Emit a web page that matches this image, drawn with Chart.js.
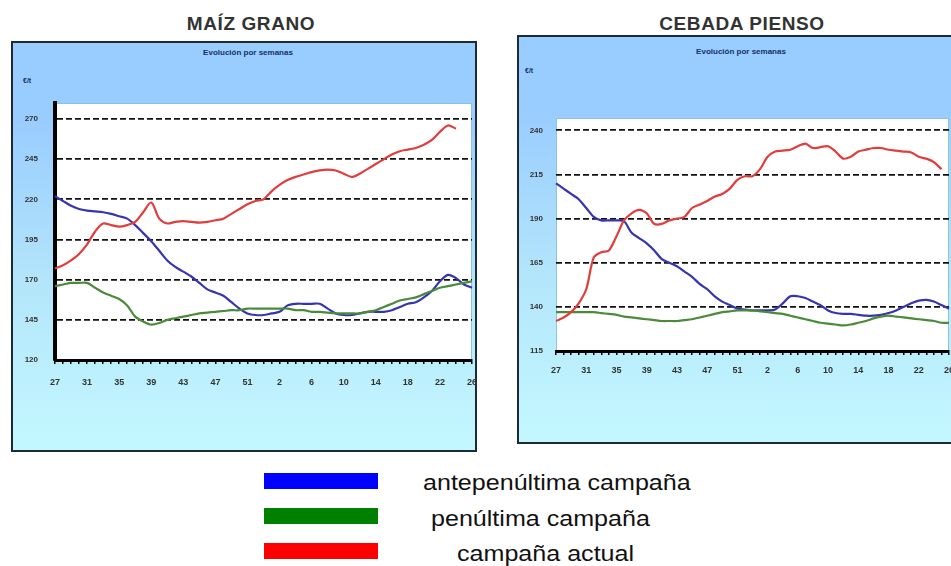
<!DOCTYPE html>
<html>
<head>
<meta charset="utf-8">
<script src="https://cdn.jsdelivr.net/npm/chart.js@4"></script>
<style>
  body { margin: 0; width: 951px; height: 566px; overflow: hidden; background: #fff; position: relative; font-family: 'Liberation Sans', Arial, sans-serif; }
  .panel { position: absolute; box-sizing: border-box; border: 2px solid #1e2a36; background: linear-gradient(180deg, #99ccff 0%, #99ccff 18%, #b4e6fb 60%, #c4f8ff 100%); }
  canvas { position: absolute; }
  .title { position: absolute; font-weight: bold; font-size: 19px; letter-spacing: 0.6px; color: #333; transform: translateX(-50%); white-space: nowrap; }
  .sub { position: absolute; font-weight: bold; font-size: 8px; color: #13306a; transform: translateX(-50%); white-space: nowrap; }
  .unit { position: absolute; font-weight: bold; font-size: 7px; color: #13306a; }
  .sw { position: absolute; left: 264px; width: 114px; height: 16px; }
  .lg { position: absolute; font-size: 22px; color: #111; white-space: nowrap; line-height: 22px; transform: scaleX(1.14); transform-origin: left center; }
</style>
</head>
<body>

<div class="title" style="left:251px; top:13px;">MAÍZ GRANO</div>
<div class="panel" style="left:11px; top:41px; width:466px; height:411px;"></div>
<div class="sub" style="left:248px; top:48px;">Evolución por semanas</div>
<div class="unit" style="left:23px; top:77px;">€/t</div>
<canvas id="maizChart" width="466" height="411" style="left:11px; top:41px; width:466px; height:411px;"></canvas>

<div class="title" style="left:742px; top:13px;">CEBADA PIENSO</div>
<div class="panel" style="left:517px; top:35px; width:440px; height:409px;"></div>
<div class="sub" style="left:741px; top:47px;">Evolución por semanas</div>
<div class="unit" style="left:525px; top:67px;">€/t</div>
<canvas id="cebadaChart" width="438" height="409" style="left:517px; top:35px; width:438px; height:409px;"></canvas>

<div class="sw" id="sw0" style="top:473px;"></div>
<div class="sw" id="sw1" style="top:508px;"></div>
<div class="sw" id="sw2" style="top:543px;"></div>
<div class="lg" id="lg0" style="left:423px; top:472px;"></div>
<div class="lg" id="lg1" style="left:431px; top:508px;"></div>
<div class="lg" id="lg2" style="left:457px; top:543px;"></div>

<script>
// semanas de campaña (27 a 53, luego 1 a 26)
const weeks = [27, 28, 29, 30, 31, 32, 33, 34, 35, 36, 37, 38, 39, 40, 41, 42, 43, 44, 45, 46, 47, 48, 49, 50, 51, 52, 53,
               1, 2, 3, 4, 5, 6, 7, 8, 9, 10, 11, 12, 13, 14, 15, 16, 17, 18, 19, 20, 21, 22, 23, 24, 25, 26];

const seriesNames = ['antepenúltima campaña', 'penúltima campaña', 'campaña actual'];
const lineColors = ['#3535b0', '#4b8a3b', '#e23c3c'];
const legendColors = ['#0000ff', '#008000', '#ff0000'];

// MAÍZ GRANO (€/t)
const maizTicks = [120, 145, 170, 195, 220, 245, 270];
const maizAntepenultima = [222, 219, 216, 214, 213, 212.5, 212, 211, 209.5, 208, 204, 199, 194, 188, 182, 178, 175, 172, 168, 164, 162, 160, 156, 152, 149, 148, 148,
                           149, 150, 154, 155, 155, 155, 155, 152, 149, 148, 148, 149, 150, 150, 150, 151, 153, 155, 156, 159, 163, 169, 173, 171, 167, 165];
const maizPenultima = [166, 167, 168, 168, 168, 165, 162, 160, 158, 154, 147, 144, 142, 143, 145, 146, 147, 148, 149, 149.5, 150, 150.5, 151, 151, 152, 152, 152,
                       152, 152, 152, 151, 151, 150, 150, 149.5, 149, 149, 149, 149, 150, 151, 153, 155, 157, 158, 159, 161, 163, 165, 166, 167, 168, 169];
const maizActual = [177, 179, 182, 186, 192, 200, 205, 204, 203, 204, 206, 212, 218, 208, 205, 206, 206.5, 206, 205.5, 206, 207, 208, 211, 214, 217, 219, 220,
                    225, 229, 232, 234, 235.5, 237, 238, 238.5, 238, 236, 234, 236, 239, 242, 245, 248, 250, 251, 252, 254, 257, 262, 266, 264, null, null];

// CEBADA PIENSO (€/t)
const cebadaTicks = [115, 140, 165, 190, 215, 240];
const cebadaAntepenultima = [210, 207, 204, 201, 196, 191, 189, 189, 189, 188.5, 182, 179, 176, 172, 167, 165, 163, 160, 157, 153, 150, 146, 143, 141, 139, 138.5, 138,
                             138, 138, 138.5, 142, 146, 146, 145, 143, 141, 138, 136.5, 136, 136, 135.5, 135, 135, 135.5, 136.5, 138, 140, 142, 143.5, 144, 143, 141, 139];
const cebadaPenultima = [137, 137, 137, 137, 137, 137, 136.5, 136, 135.5, 134.5, 134, 133.5, 133, 132.5, 132, 132, 132, 132.5, 133, 134, 135, 136, 137, 137.5, 138, 138, 138,
                         137.5, 137, 136.5, 136, 135, 134, 133, 132, 131, 130.5, 130, 129.5, 130, 131, 132, 133.5, 134.5, 135, 134.5, 134, 133.5, 133, 132.5, 132, 131, 131];
const cebadaActual = [132, 134, 137, 142, 150, 168, 171, 172, 180, 189, 193, 195, 193, 187, 187, 189, 190, 191, 196, 198, 200, 202.5, 204, 207, 212, 214, 214,
                      218, 225, 228, 228.5, 229, 231, 232.5, 230, 230.5, 231, 228, 224, 225, 228, 229, 230, 230, 229, 228.5, 228, 227.5, 225, 224, 222, 218, null];

// fondo blanco del área de trazado
const plotBackground = {
  id: 'plotBackground',
  beforeDraw(chart) {
    const {ctx, chartArea: a} = chart;
    ctx.save();
    ctx.fillStyle = '#ffffff';
    ctx.fillRect(a.left, a.top, a.right - a.left, a.bottom - a.top);
    ctx.strokeStyle = '#8ec3dc';
    ctx.lineWidth = 1;
    ctx.strokeRect(a.left + 0.5, a.top + 0.5, a.right - a.left - 1, a.bottom - a.top - 1);
    ctx.restore();
  }
};

function makeChart(id, series, ticks, yMin, yMax, cfg) {
  return new Chart(document.getElementById(id), {
    type: 'line',
    data: {
      labels: weeks,
      datasets: series.map((d, i) => ({
        label: seriesNames[i],
        data: d,
        borderColor: lineColors[i],
        backgroundColor: lineColors[i],
        borderWidth: 2.2,
        pointRadius: 0,
        tension: 0.3,
        order: 3 - i
      }))
    },
    options: {
      responsive: false,
      animation: false,
      layout: { autoPadding: false, padding: { left: 0, right: cfg.right, top: cfg.top, bottom: cfg.bottom } },
      plugins: { legend: { display: false }, tooltip: { enabled: false } },
      scales: {
        x: {
          grid: { drawOnChartArea: false, drawTicks: true, tickLength: 4, color: '#000', lineWidth: 1.5 },
          border: { color: '#000', width: 3 },
          ticks: {
            autoSkip: false, maxRotation: 0, padding: cfg.xPad,
            color: '#333', font: { family: "'Liberation Sans', Arial", size: 9, weight: 'bold' },
            callback: (v, i) => (i % 4 === 0 ? String(weeks[i]) : '')
          },
          afterFit: s => { s.height = 40; s.paddingLeft = 0; s.paddingRight = 0; }
        },
        y: {
          min: yMin,
          max: yMax,
          afterBuildTicks: s => { s.ticks = ticks.map(v => ({ value: v })); },
          grid: { drawTicks: false, color: '#111', lineWidth: 1.8 },
          border: { display: cfg.leftAxis, color: '#000', width: 4, dash: [6, 3] },
          ticks: {
            padding: cfg.yPad, color: '#333',
            font: { family: "'Liberation Sans', Arial", size: 8, weight: 'bold' }
          },
          afterFit: s => { s.width = cfg.yWidth; s.paddingTop = 0; s.paddingBottom = 0; }
        }
      }
    },
    plugins: [plotBackground]
  });
}

makeChart('maizChart', [maizAntepenultima, maizPenultima, maizActual], maizTicks, 120, 280,
  { right: 5, top: 62, bottom: 52, yWidth: 44, yPad: 17, xPad: 13, leftAxis: true });

makeChart('cebadaChart', [cebadaAntepenultima, cebadaPenultima, cebadaActual], cebadaTicks, 115, 247,
  { right: 6, top: 83, bottom: 53, yWidth: 39, yPad: 13, xPad: 10, leftAxis: false });

// leyenda común
seriesNames.forEach((name, i) => {
  document.getElementById('sw' + i).style.background = legendColors[i];
  document.getElementById('lg' + i).textContent = name;
});
</script>
</body>
</html>
